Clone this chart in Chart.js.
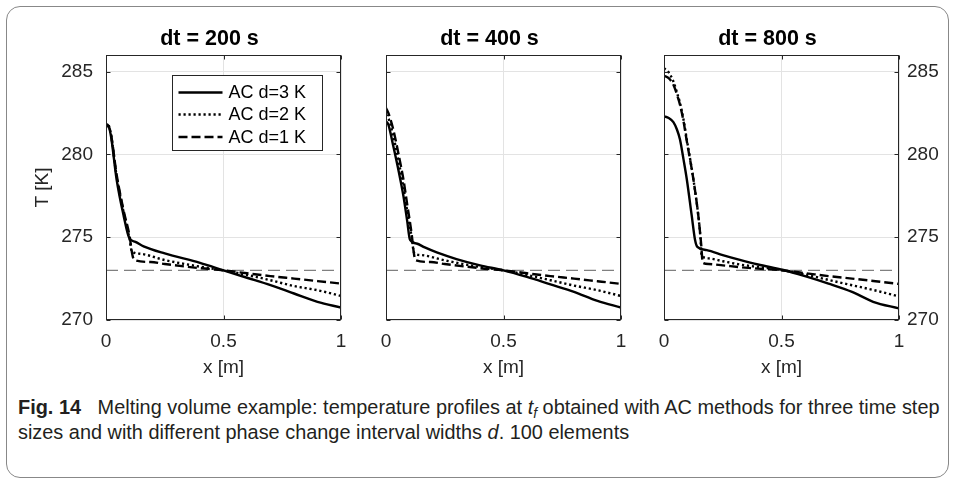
<!DOCTYPE html>
<html><head><meta charset="utf-8">
<script src="https://cdn.jsdelivr.net/npm/chart.js@4.4.1/dist/chart.umd.min.js"></script>
<style>
html,body{margin:0;padding:0;background:#fff;}
#wrap{position:relative;width:955px;height:480px;overflow:hidden;font-family:"Liberation Sans",Arial,sans-serif;}
#frame{position:absolute;left:6px;top:6px;width:943px;height:472px;border:1px solid #888;border-radius:14px;box-sizing:border-box;}
canvas{position:absolute;top:0;}
#cap{position:absolute;left:18px;top:395px;font-size:17px;line-height:25px;color:#231f20;white-space:nowrap;}
#cap sub{font-size:0.7em;vertical-align:-0.3em;line-height:0;}
</style></head>
<body>
<div id="wrap">
  <div id="frame"></div>
  <canvas id="c1" width="370" height="390" style="left:0px"></canvas>
  <canvas id="c2" width="270" height="390" style="left:370px"></canvas>
  <canvas id="c3" width="315" height="390" style="left:640px"></canvas>
  <div id="cap"><span id="l1"><b>Fig. 14</b>&nbsp;&nbsp; Melting volume example: temperature profiles at <i>t</i><sub><i>f</i></sub> obtained with AC methods for three time step</span><br>sizes and with different phase change interval widths <i>d</i>. 100 elements</div>
</div>
<script>
const X_TICKS = [0, 0.5, 1];
const Y_TICKS = [270, 275, 280, 285];
const Y_MIN = 270, Y_MAX = 286;
const T_MELT = 273;
const PANEL_TITLES = ['dt = 200 s', 'dt = 400 s', 'dt = 800 s'];
const SERIES_LABELS = ['AC d=3 K', 'AC d=2 K', 'AC d=1 K'];

// dt = 200 s
const X_200_D3 = [0, 0.006, 0.02, 0.045, 0.075, 0.099, 0.125, 0.16, 0.25, 0.4, 0.5, 0.6, 0.7, 0.8, 0.9, 1];
const T_200_D3 = [281.65, 281.8, 281.2, 278.5, 276.3, 274.95, 274.72, 274.45, 274.02, 273.45, 273.0, 272.55, 272.1, 271.6, 271.1, 270.75];
const X_200_D2 = [0, 0.006, 0.02, 0.045, 0.075, 0.1, 0.11, 0.145, 0.25, 0.4, 0.5, 0.6, 0.7, 0.8, 0.9, 1];
const T_200_D2 = [281.7, 281.85, 281.3, 278.7, 276.5, 274.9, 274.15, 274.0, 273.62, 273.22, 273.0, 272.72, 272.4, 272.05, 271.8, 271.45];
const X_200_D1 = [0, 0.006, 0.02, 0.045, 0.075, 0.1, 0.112, 0.12, 0.19, 0.25, 0.4, 0.5, 0.6, 0.7, 0.8, 0.9, 1];
const T_200_D1 = [281.6, 281.75, 281.3, 278.8, 276.6, 275.1, 273.95, 273.62, 273.5, 273.38, 273.13, 273.0, 272.82, 272.65, 272.5, 272.35, 272.2];

// dt = 400 s
const X_400_D3 = [0, 0.01, 0.031, 0.055, 0.074, 0.09, 0.102, 0.13, 0.165, 0.216, 0.3, 0.4, 0.5, 0.6, 0.7, 0.8, 0.9, 1];
const T_400_D3 = [282.0, 281.8, 280.5, 278.9, 277.5, 276.0, 274.85, 274.62, 274.38, 274.08, 273.68, 273.3, 273.0, 272.6, 272.15, 271.7, 271.15, 270.75];
const X_400_D2 = [0, 0.01, 0.031, 0.055, 0.074, 0.09, 0.108, 0.12, 0.15, 0.25, 0.4, 0.5, 0.6, 0.7, 0.8, 0.9, 1];
const T_400_D2 = [282.4, 282.2, 281.1, 279.5, 278.0, 276.6, 275.1, 274.05, 273.92, 273.6, 273.2, 273.0, 272.72, 272.4, 272.08, 271.8, 271.45];
const X_400_D1 = [0, 0.01, 0.031, 0.055, 0.074, 0.09, 0.11, 0.118, 0.125, 0.19, 0.25, 0.4, 0.5, 0.6, 0.7, 0.8, 0.9, 1];
const T_400_D1 = [282.8, 282.5, 281.5, 279.9, 278.5, 277.0, 275.1, 274.1, 273.62, 273.5, 273.38, 273.13, 273.0, 272.82, 272.65, 272.5, 272.34, 272.18];

// dt = 800 s
const X_800_D3 = [0, 0.02, 0.04, 0.055, 0.068, 0.083, 0.097, 0.118, 0.132, 0.142, 0.182, 0.25, 0.323, 0.4, 0.508, 0.6, 0.7, 0.8, 0.89, 1];
const T_800_D3 = [282.3, 282.2, 281.95, 281.5, 280.9, 279.7, 278.5, 276.3, 274.85, 274.42, 274.22, 273.92, 273.63, 273.35, 273.02, 272.65, 272.2, 271.7, 271.1, 270.7];
const X_800_D2 = [0, 0.02, 0.04, 0.06, 0.068, 0.083, 0.097, 0.125, 0.146, 0.155, 0.16, 0.19, 0.25, 0.323, 0.4, 0.5, 0.6, 0.7, 0.8, 0.9, 1];
const T_800_D2 = [285.2, 284.95, 284.4, 283.5, 283.1, 282.1, 280.9, 278.5, 276.3, 275.0, 273.9, 273.72, 273.55, 273.35, 273.2, 273.02, 272.75, 272.42, 272.1, 271.78, 271.42];
const X_800_D1 = [0, 0.02, 0.04, 0.06, 0.068, 0.083, 0.097, 0.125, 0.146, 0.158, 0.165, 0.19, 0.25, 0.323, 0.4, 0.5, 0.6, 0.7, 0.8, 0.9, 1];
const T_800_D1 = [284.75, 284.6, 284.2, 283.4, 283.0, 282.0, 280.8, 278.5, 276.3, 274.6, 273.45, 273.38, 273.3, 273.19, 273.1, 273.0, 272.83, 272.65, 272.5, 272.34, 272.18];

const PANELS = [
  [[X_200_D3, T_200_D3], [X_200_D2, T_200_D2], [X_200_D1, T_200_D1]],
  [[X_400_D3, T_400_D3], [X_400_D2, T_400_D2], [X_400_D1, T_400_D1]],
  [[X_800_D3, T_800_D3], [X_800_D2, T_800_D2], [X_800_D1, T_800_D1]]
];

const STYLES = [
  {borderDash: [], borderWidth: 2.4},
  {borderDash: [2.2, 2.8], borderWidth: 2.4},
  {borderDash: [9, 4], borderWidth: 2.4}
];

const FONT_FAMILY = '"Liberation Sans", Arial, sans-serif';
Chart.defaults.font.family = FONT_FAMILY;
Chart.defaults.font.size = 19;
Chart.defaults.color = '#262626';

function pts(xs, ys) { return xs.map((x, i) => ({x: x, y: ys[i]})); }

const framePlugin = {
  id: 'frameTicks',
  afterDatasetsDraw(chart, args, opts) {
    const ctx = chart.ctx, a = chart.chartArea, xs = chart.scales.x, ys = chart.scales.y;
    ctx.save();
    ctx.strokeStyle = '#262626';
    ctx.lineWidth = 1;
    ctx.setLineDash([]);
    const L = Math.round(a.left) + 0.5, R = Math.round(a.right) - 0.5, T = Math.round(a.top) + 0.5, B = Math.round(a.bottom) - 0.5;
    ctx.strokeRect(L, T, R - L, B - T);
    const tl = 4;
    ctx.beginPath();
    X_TICKS.forEach(v => {
      const p = Math.round(xs.getPixelForValue(v)) + 0.5;
      ctx.moveTo(p, B); ctx.lineTo(p, B - tl);
      ctx.moveTo(p, T); ctx.lineTo(p, T + tl);
    });
    Y_TICKS.forEach(v => {
      const p = Math.round(ys.getPixelForValue(v)) + 0.5;
      ctx.moveTo(L, p); ctx.lineTo(L + tl, p);
      ctx.moveTo(R, p); ctx.lineTo(R - tl, p);
    });
    ctx.stroke();
    ctx.fillStyle = '#000';
    ctx.font = 'bold 21.5px ' + FONT_FAMILY;
    ctx.textAlign = 'center';
    ctx.textBaseline = 'middle';
    ctx.fillText(opts.title, (a.left + a.right) / 2 - 14, 39);
    if (opts.legend) {
      const bw = 150, bh = 75;
      const bx = Math.round(a.right - 19 - bw) + 0.5, by = Math.round(a.top + 20) + 0.5;
      ctx.fillStyle = '#fff';
      ctx.fillRect(bx, by, bw, bh);
      ctx.strokeStyle = '#262626';
      ctx.lineWidth = 1;
      ctx.strokeRect(bx, by, bw, bh);
      ctx.font = '18px ' + FONT_FAMILY;
      ctx.textBaseline = 'middle';
      ctx.textAlign = 'left';
      const rows = [17, 39, 61.5];
      chart.data.datasets.forEach((ds, i) => {
        if (!ds.inLegend) return;
        const yy = by + rows[i];
        ctx.strokeStyle = ds.borderColor;
        ctx.lineWidth = ds.borderWidth;
        ctx.setLineDash(ds.borderDash || []);
        ctx.beginPath();
        ctx.moveTo(bx + 6, yy); ctx.lineTo(bx + 50, yy);
        ctx.stroke();
        ctx.setLineDash([]);
        ctx.fillStyle = '#000';
        ctx.fillText(ds.label, bx + 56, yy + 1);
      });
    }
    ctx.restore();
  }
};

function makeChart(id, pi, cfg) {
  const datasets = PANELS[pi].map((s, i) => ({
    label: SERIES_LABELS[i],
    data: pts(s[0], s[1]),
    borderColor: '#000',
    borderWidth: STYLES[i].borderWidth,
    borderDash: STYLES[i].borderDash,
    borderCapStyle: 'butt',
    pointRadius: 0,
    showLine: true,
    fill: false,
    cubicInterpolationMode: 'monotone',
    inLegend: true
  }));
  datasets.push({
    label: 'T_m',
    data: pts([X_TICKS[0], X_TICKS[X_TICKS.length - 1]], [T_MELT, T_MELT]),
    borderColor: '#808080',
    borderWidth: 1.2,
    borderDash: [12, 6],
    pointRadius: 0,
    showLine: true,
    fill: false,
    inLegend: false
  });
  const tickFont = {family: FONT_FAMILY, size: 19};
  return new Chart(document.getElementById(id), {
    type: 'scatter',
    data: {datasets: datasets},
    plugins: [framePlugin],
    options: {
      responsive: false,
      animation: false,
      events: [],
      layout: {padding: cfg.padding},
      plugins: {
        legend: {display: false},
        tooltip: {enabled: false},
        title: {display: false},
        frameTicks: {legend: cfg.legend, title: PANEL_TITLES[pi]}
      },
      scales: {
        x: {
          type: 'linear', min: 0, max: 1,
          afterBuildTicks: sc => { sc.ticks = X_TICKS.map(v => ({value: v})); },
          afterFit: sc => { sc.height = 70; },
          grid: {color: '#e3e3e3', drawTicks: false, lineWidth: 1},
          border: {display: false},
          ticks: {font: tickFont, padding: 10, color: '#262626', maxRotation: 0,
                  callback: v => String(v)},
          title: {display: true, text: 'x [m]', font: tickFont, color: '#262626', padding: {top: 0, bottom: 11}}
        },
        y: {
          type: 'linear', min: Y_MIN, max: Y_MAX, position: cfg.yPos,
          afterBuildTicks: sc => { sc.ticks = Y_TICKS.map(v => ({value: v})); },
          afterFit: sc => { sc.width = cfg.yWidth; },
          grid: {color: '#e3e3e3', drawTicks: false, lineWidth: 1},
          border: {display: false},
          ticks: {display: cfg.yLabels, font: tickFont, padding: cfg.yPad, color: '#262626',
                  callback: v => String(v)},
          title: {display: cfg.yTitle, text: 'T [K]', font: tickFont, color: '#262626', padding: {top: 11, bottom: 0}}
        }
      }
    }
  });
}

makeChart('c1', 0, {padding: {left: 20, right: 29, top: 55, bottom: 0}, yPos: 'left', yWidth: 86, yLabels: true, yPad: 13, yTitle: true, legend: true});
makeChart('c2', 1, {padding: {left: 0, right: 19, top: 55, bottom: 0}, yPos: 'left', yWidth: 16, yLabels: false, yPad: 13, yTitle: false, legend: false});
makeChart('c3', 2, {padding: {left: 24, right: 0, top: 55, bottom: 0}, yPos: 'right', yWidth: 56, yLabels: true, yPad: 8, yTitle: false, legend: false});

(function () {
  const cap = document.getElementById('cap');
  const l1 = document.getElementById('l1');
  const w = l1.getBoundingClientRect().width;
  const target = 922;
  cap.style.fontSize = (17 * target / w).toFixed(2) + 'px';
})();
</script>
</body></html>
